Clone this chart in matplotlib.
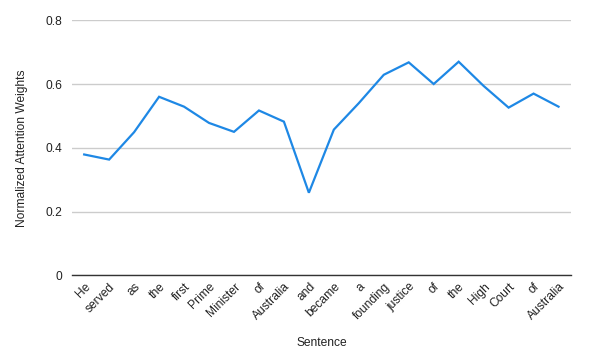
import matplotlib
matplotlib.use("Agg")
import matplotlib.pyplot as plt

words = ["He", "served", "as", "the", "first", "Prime", "Minister", "of", "Australia",
         "and", "became", "a", "founding", "justice", "of", "the", "High", "Court", "of", "Australia"]
weights = [0.379, 0.363, 0.449, 0.560, 0.529, 0.478, 0.450, 0.517, 0.482,
           0.259, 0.457, 0.540, 0.629, 0.668, 0.600, 0.670, 0.594, 0.526, 0.570, 0.529]
yticks = [0, 0.2, 0.4, 0.6, 0.8]
ytick_labels = ["0", "0.2", "0.4", "0.6", "0.8"]

plt.rcParams['font.family'] = ['Liberation Sans', 'DejaVu Sans']
text_color = "#222222"
fs = 8.64

fig = plt.figure(figsize=(5.94, 3.62), dpi=100)
ax = fig.add_axes([0.1207, 0.2395, 0.8406, 0.7045])

x = list(range(len(words)))
ax.plot(x, weights, color="#1E88E5", linewidth=1.6, solid_joinstyle="miter")

ax.set_xlim(-0.5, len(words) - 0.5)
ax.set_ylim(0, 0.8)
ax.set_yticks(yticks)
ax.set_yticklabels(ytick_labels, color=text_color, fontsize=fs)
ax.set_xticks(x)
ax.set_xticklabels(words, rotation=45, ha="right", va="top", rotation_mode="anchor",
                   color=text_color, fontsize=fs)
ax.tick_params(axis="both", length=0)
ax.tick_params(axis="y", pad=7)
ax.tick_params(axis="x", pad=4)

ax.grid(axis="y", color="#cccccc", linewidth=1)
ax.set_axisbelow(True)
for s in ["top", "right", "left"]:
    ax.spines[s].set_visible(False)
ax.spines["bottom"].set_color("#333333")
ax.spines["bottom"].set_linewidth(1)
ax.spines["bottom"].set_zorder(3)

ax.set_ylabel("Normalized Attention Weights", color=text_color, fontsize=fs, labelpad=12)
ax.set_xlabel("Sentence", color=text_color, fontsize=fs, labelpad=10.5)

fig.savefig("out.png", dpi=100)
